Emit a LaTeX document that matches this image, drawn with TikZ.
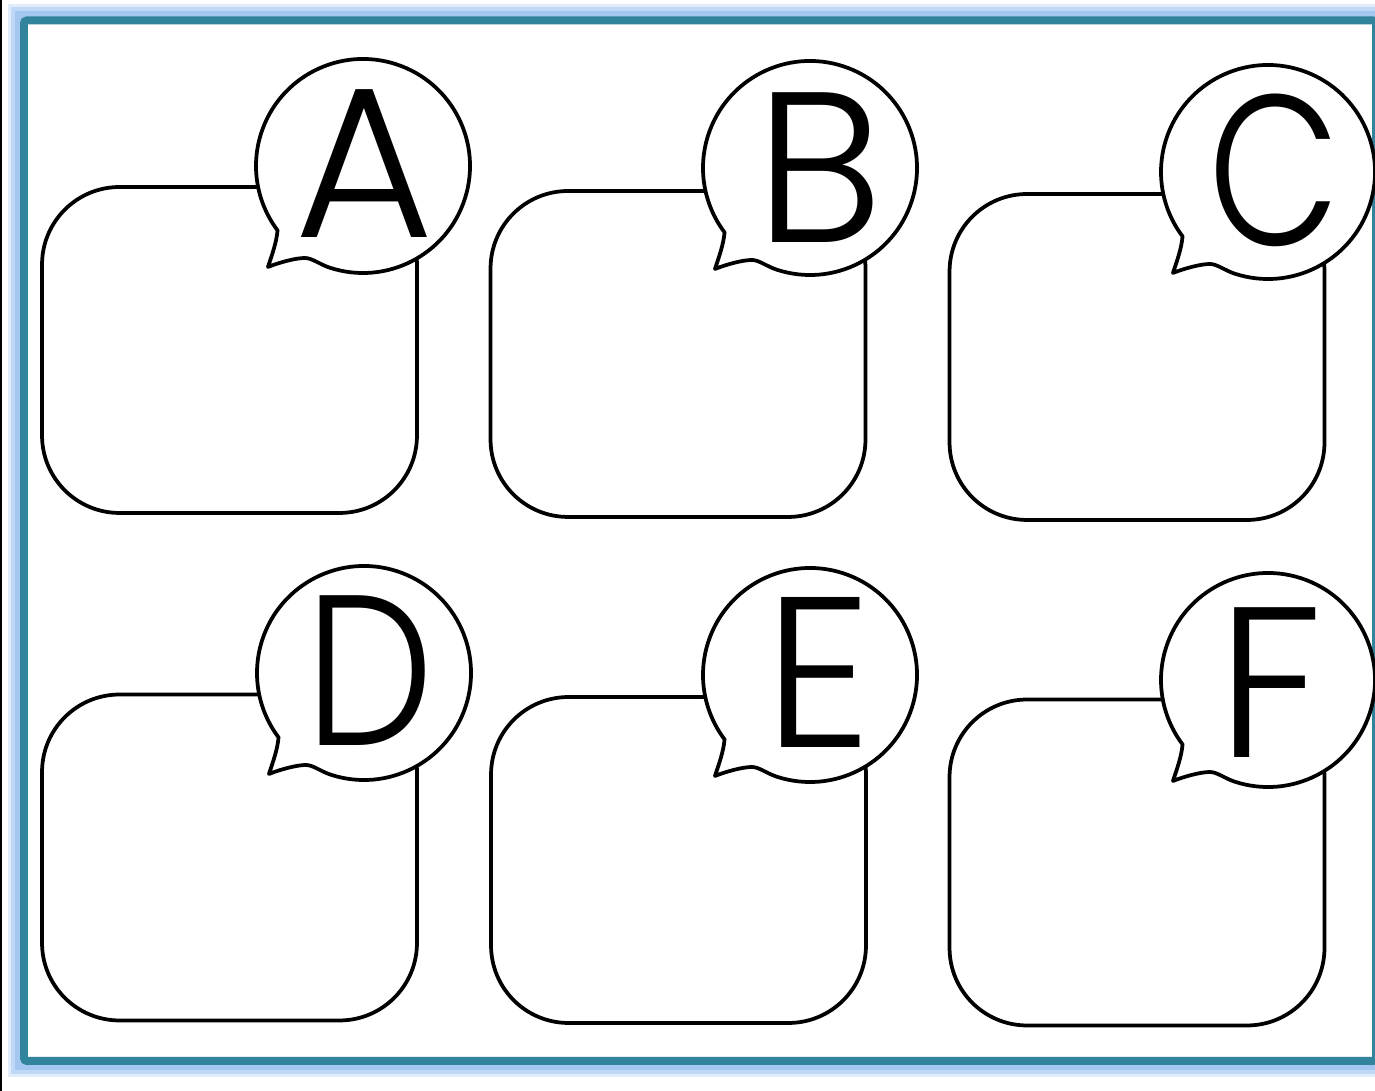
\documentclass[tikz,border=0pt]{standalone}
\usepackage{fontspec}
\IfFontExistsTF{Poppins Light}{\newfontfamily\letterfont{Poppins Light}}{\newfontfamily\letterfont{Poppins}}
\usepackage{tikz}
\usetikzlibrary{calc}
\definecolor{frameteal}{HTML}{31849B}
\definecolor{frameglow}{HTML}{9DC3F0}

\begin{document}
\begin{tikzpicture}[x=0.02cm, y=0.02cm,
  cardbox/.style={draw, line width=0.075cm, rounded corners=1.55cm, minimum width=7.5cm, minimum height=6.52cm, inner sep=0},
  bubble/.style={draw, fill=white, line width=0.075cm, line join=round},
  letter/.style={inner sep=0, font=\letterfont\fontsize{122}{122}\selectfont}]
\useasboundingbox (0,0) rectangle (1375,1091);
% frame with its soft shadow
\draw[frameglow, opacity=0.3, line width=0.66cm] (24,30) rectangle (1376,1070.5);
\draw[frameglow, opacity=0.5, line width=0.52cm] (24,30) rectangle (1376,1070.5);
\draw[frameglow, opacity=0.8, line width=0.38cm] (24,30) rectangle (1376,1070.5);
\fill[white] (24,30) rectangle (1376,1070.5);
\draw[frameteal, line width=0.16cm, rounded corners=0.06cm] (24,30) rectangle (1376,1070.5);
\draw[black, line width=0.04cm] (1,0) -- (1,1091);
% boxes
\node[cardbox] (bA) at (229.5,741) {};
\node[cardbox] (bB) at (678,737) {};
\node[cardbox] (bC) at (1137,734) {};
\node[cardbox] (bD) at (229.5,233.5) {};
\node[cardbox] (bE) at (678.5,231) {};
\node[cardbox] (bF) at (1137,228.5) {};
% speech bubbles
\coordinate (cA) at (363,925);
\coordinate (cB) at (810,923);
\coordinate (cC) at (1268,919);
\coordinate (cD) at (364,418);
\coordinate (cE) at (810,416);
\coordinate (cF) at (1268,411);
\draw[bubble] ($(cA)+(252:107)$) arc[start angle=252, end angle=577, radius=107] .. controls +(-1,-12) and +(4,12) .. ++(-9.6,-36.6) .. controls +(10,4) and +(-10,0) .. ++(37,9) .. controls +(7,0) and +(-10,3.3) .. ++(24.9,-9.76) -- cycle;
\draw[bubble] ($(cB)+(252:107)$) arc[start angle=252, end angle=577, radius=107] .. controls +(-1,-12) and +(4,12) .. ++(-9.6,-36.6) .. controls +(10,4) and +(-10,0) .. ++(37,9) .. controls +(7,0) and +(-10,3.3) .. ++(24.9,-9.76) -- cycle;
\draw[bubble] ($(cC)+(252:107)$) arc[start angle=252, end angle=577, radius=107] .. controls +(-1,-12) and +(4,12) .. ++(-9.6,-36.6) .. controls +(10,4) and +(-10,0) .. ++(37,9) .. controls +(7,0) and +(-10,3.3) .. ++(24.9,-9.76) -- cycle;
\draw[bubble] ($(cD)+(252:107)$) arc[start angle=252, end angle=577, radius=107] .. controls +(-1,-12) and +(4,12) .. ++(-9.6,-36.6) .. controls +(10,4) and +(-10,0) .. ++(37,9) .. controls +(7,0) and +(-10,3.3) .. ++(24.9,-9.76) -- cycle;
\draw[bubble] ($(cE)+(252:107)$) arc[start angle=252, end angle=577, radius=107] .. controls +(-1,-12) and +(4,12) .. ++(-9.6,-36.6) .. controls +(10,4) and +(-10,0) .. ++(37,9) .. controls +(7,0) and +(-10,3.3) .. ++(24.9,-9.76) -- cycle;
\draw[bubble] ($(cF)+(252:107)$) arc[start angle=252, end angle=577, radius=107] .. controls +(-1,-12) and +(4,12) .. ++(-9.6,-36.6) .. controls +(10,4) and +(-10,0) .. ++(37,9) .. controls +(7,0) and +(-10,3.3) .. ++(24.9,-9.76) -- cycle;
% letters
\node[letter] (lA) at ($(cA)+(1,2)$) {A};
\node[letter] (lB) at ($(cB)+(9,0)$) {B};
\node[letter, xscale=0.8] (lC) at ($(cC)+(7,2)$) {C};
\node[letter, xscale=0.85] (lD) at ($(cD)+(6,2)$) {D};
\node[letter] (lE) at ($(cE)+(8,3)$) {E};
\node[letter] (lF) at ($(cF)+(2,-3)$) {F};
\end{tikzpicture}
\end{document}
